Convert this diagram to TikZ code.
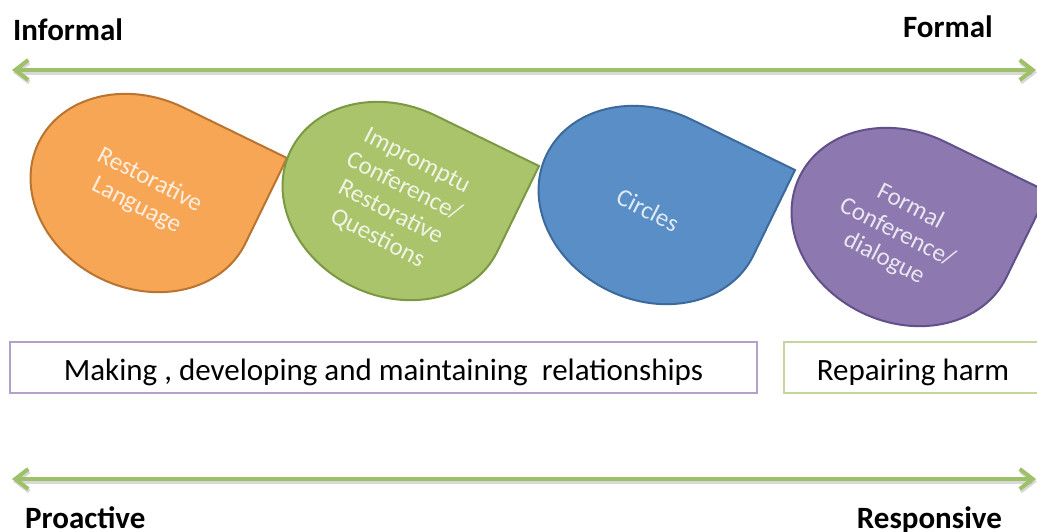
\documentclass[tikz,border=0pt]{standalone}
\usepackage{fontspec}
\setmainfont{Carlito}
\usetikzlibrary{arrows.meta}
\definecolor{arrowgreen}{HTML}{9DC068}
\definecolor{orfill}{HTML}{F7A656}
\definecolor{ordraw}{HTML}{B9742F}
\definecolor{grfill}{HTML}{AAC46C}
\definecolor{grdraw}{HTML}{7B9843}
\definecolor{blfill}{HTML}{5A8EC6}
\definecolor{bldraw}{HTML}{3D6A9C}
\definecolor{pufill}{HTML}{8D78B0}
\definecolor{pudraw}{HTML}{62508A}
\definecolor{boxpurple}{HTML}{B3A2C7}
\definecolor{boxgreen}{HTML}{C3D69B}
\tikzset{
  axisarrow/.style={line width=4pt, draw=arrowgreen,
    {Straight Barb[length=13pt,width=20pt]}-{Straight Barb[length=13pt,width=20pt]}},
  axisshadow/.style={line width=4pt, draw=black!30, draw opacity=0.5,
    {Straight Barb[length=13pt,width=20pt]}-{Straight Barb[length=13pt,width=20pt]}},
  droptext/.style={text=white, text opacity=0.82, align=center,
    font=\fontsize{25}{29}\selectfont, rotate=-27, inner sep=0},
  axislabel/.style={font=\fontsize{31}{36}\selectfont\bfseries, inner sep=0},
  rowbox/.style={line width=1.5pt, minimum height=51pt, inner sep=0,
    text height=25pt, text depth=0pt, font=\fontsize{31}{36}\selectfont},
  dropshape/.style={line width=2pt},
}
\newcommand\mydrop[4]{%
  \begin{scope}[shift={(#1,#2)}, rotate=-26]
    \filldraw[dropshape, fill=#3, draw=#4] (0,95) -- (115,95) -- (115,0)
      arc[start angle=0, end angle=-270, x radius=115, y radius=95] -- cycle;
  \end{scope}}
\begin{document}
\begin{tikzpicture}[x=1pt,y=1pt]
\useasboundingbox (0,0) rectangle (1037,-531);
\fill[white] (0,0) rectangle (1037,-531);

% axis labels
\node[axislabel, anchor=base west] (informal) at (13,-40) {Informal};
\node[axislabel, anchor=base east] (formal) at (993,-37) {Formal};
\node[axislabel, anchor=base west] (proactive) at (25,-528) {Proactive};
\node[axislabel, anchor=base east] (responsive) at (1002,-528) {Responsive};

% axes
\coordinate (tl) at (12,-70);
\coordinate (tr) at (1036,-70);
\coordinate (bl) at (12,-479);
\coordinate (br) at (1036,-479);
\coordinate (tls) at (13,-72.5);
\coordinate (trs) at (1037,-72.5);
\coordinate (bls) at (13,-481.5);
\coordinate (brs) at (1037,-481.5);
\draw[axisshadow] (tls) -- (trs);
\draw[axisshadow] (bls) -- (brs);
\draw[axisarrow] (tl) -- (tr);
\draw[axisarrow] (bl) -- (br);

% teardrops
\mydrop{142}{-193}{orfill}{ordraw}
\mydrop{394}{-201}{grfill}{grdraw}
\mydrop{650}{-205}{blfill}{bldraw}
\mydrop{903}{-227}{pufill}{pudraw}

\node[droptext] (lang) at (143,-193) {Restorative\\Language};
\node[droptext] (impromptu) at (397,-200) {Impromptu\\Conference/\\Restorative\\Questions};
\node[droptext] (circles) at (648,-210) {Circles};
\node[droptext] (formalconf) at (897,-233) {Formal\\Conference/\\dialogue};

% boxes
\node[rowbox, draw=boxpurple, minimum width=747pt] (rel) at (383.5,-367.5)
  {Making , developing and maintaining\ \ relationships};
\node[rowbox, draw=boxgreen, minimum width=258pt] (harm) at (913,-367.5)
  {Repairing harm};
\end{tikzpicture}
\end{document}
